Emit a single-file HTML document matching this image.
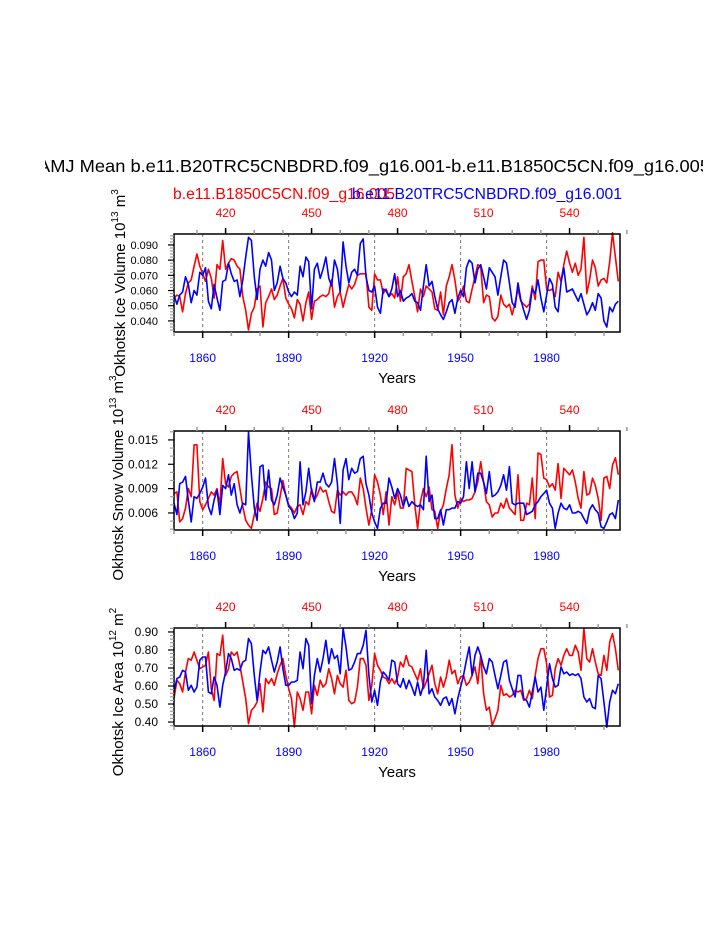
<!DOCTYPE html>
<html><head><meta charset="utf-8"><style>
body{margin:0;background:#fff}
svg{display:block;font-family:"Liberation Sans",sans-serif}
</style></head><body>
<svg id="chart" width="723" height="935" viewBox="0 0 723 935" xmlns="http://www.w3.org/2000/svg">
<rect width="723" height="935" fill="#fff"/>
<text x="38" y="172" font-size="17.5" textLength="672" lengthAdjust="spacingAndGlyphs">AMJ Mean b.e11.B20TRC5CNBDRD.f09_g16.001-b.e11.B1850C5CN.f09_g16.005</text>
<rect x="0" y="150" width="45" height="30" fill="#fff"/>
<rect x="703" y="150" width="20" height="30" fill="#fff"/>
<text x="173" y="199" font-size="15.5" fill="#f00" textLength="222" lengthAdjust="spacingAndGlyphs">b.e11.B1850C5CN.f09_g16.005</text>
<text x="352" y="199" font-size="15.5" fill="#00f" textLength="270" lengthAdjust="spacingAndGlyphs">b.e11.B20TRC5CNBDRD.f09_g16.001</text>
<g id="plots"></g>
</svg>
<script>
const years = [];
for (let y = 1850; y <= 2005; y++) years.push(y);
const bottomTicks = [1860, 1890, 1920, 1950, 1980];
const topTicks = [420, 450, 480, 510, 540];
const redOffset = 1448;

const iceVolRed = [0.055,0.057,0.056,0.046,0.058,0.065,0.067,0.076,0.084,0.076,0.071,0.066,0.074,0.068,0.055,0.077,0.074,0.093,0.074,0.078,0.081,0.080,0.076,0.074,0.056,0.047,0.034,0.045,0.049,0.061,0.063,0.036,0.052,0.056,0.061,0.054,0.057,0.063,0.068,0.055,0.051,0.048,0.042,0.054,0.051,0.040,0.052,0.059,0.041,0.053,0.054,0.056,0.057,0.056,0.058,0.067,0.049,0.056,0.059,0.049,0.057,0.064,0.061,0.064,0.070,0.071,0.071,0.071,0.049,0.047,0.071,0.067,0.067,0.058,0.061,0.056,0.058,0.055,0.069,
0.053,0.069,0.071,0.077,0.066,0.056,0.046,0.061,0.056,0.063,0.061,0.059,0.048,0.047,0.059,0.044,0.063,0.069,0.077,0.067,0.053,0.056,0.063,0.053,0.052,0.061,0.069,0.077,0.076,0.052,0.057,0.056,0.042,0.040,0.043,0.057,0.051,0.049,0.051,0.044,0.052,0.061,0.053,0.051,0.049,0.051,0.063,0.054,0.079,0.080,0.080,0.061,0.060,0.061,0.056,0.072,0.066,0.077,0.086,0.078,0.072,0.078,0.070,0.074,0.095,0.058,0.067,0.080,0.075,0.063,0.067,0.068,0.065,0.079,0.098,0.082,0.066];
const iceVolBlue = [0.057,0.051,0.057,0.059,0.069,0.064,0.052,0.060,0.057,0.072,0.070,0.075,0.053,0.048,0.064,0.055,0.047,0.066,0.067,0.078,0.071,0.066,0.067,0.056,0.067,0.082,0.095,0.093,0.069,0.054,0.074,0.080,0.076,0.085,0.080,0.060,0.065,0.076,0.068,0.065,0.059,0.056,0.059,0.057,0.076,0.069,0.082,0.079,0.048,0.074,0.078,0.068,0.074,0.082,0.068,0.063,0.080,0.074,0.059,0.092,0.076,0.065,0.072,0.074,0.070,0.091,0.094,0.069,0.060,0.059,0.063,0.049,0.045,0.061,0.060,0.056,0.061,0.071,0.056,
0.060,0.053,0.055,0.056,0.058,0.053,0.052,0.047,0.063,0.077,0.063,0.066,0.056,0.048,0.044,0.041,0.046,0.052,0.054,0.045,0.055,0.060,0.056,0.075,0.080,0.078,0.065,0.074,0.077,0.069,0.061,0.075,0.072,0.069,0.057,0.069,0.080,0.078,0.065,0.052,0.049,0.065,0.054,0.047,0.041,0.047,0.061,0.058,0.067,0.055,0.046,0.057,0.068,0.064,0.049,0.046,0.065,0.075,0.059,0.060,0.061,0.057,0.053,0.058,0.051,0.044,0.047,0.052,0.047,0.058,0.055,0.040,0.036,0.049,0.046,0.051,0.053];
const snowVolRed = [0.0084,0.0086,0.0049,0.0053,0.0066,0.0090,0.0080,0.0144,0.0144,0.0074,0.0064,0.0070,0.0078,0.0086,0.0082,0.0090,0.0070,0.0127,0.0096,0.0092,0.0105,0.0109,0.0111,0.0090,0.0068,0.0051,0.0045,0.0041,0.0058,0.0072,0.0062,0.0078,0.0098,0.0092,0.0090,0.0058,0.0060,0.0080,0.0100,0.0082,0.0070,0.0066,0.0060,0.0068,0.0070,0.0058,0.0074,0.0070,0.0090,0.0076,0.0082,0.0092,0.0086,0.0088,0.0074,0.0062,0.0060,0.0088,0.0082,0.0086,0.0082,0.0086,0.0086,0.0080,0.0070,0.0103,0.0090,0.0066,0.0045,0.0064,0.0107,0.0098,0.0082,0.0058,0.0086,0.0045,0.0080,0.0070,0.0086,0.0066,0.0066,0.0115,0.0113,0.0111,0.0070,0.0041,0.0074,0.0090,0.0080,0.0092,0.0064,0.0062,0.0041,0.0062,0.0070,0.0090,0.0107,0.0144,0.0082,0.0066,0.0078,0.0074,0.0076,0.0076,0.0078,0.0086,0.0098,0.0123,0.0098,0.0074,0.0070,0.0055,0.0060,0.0060,0.0072,0.0066,0.0078,0.0066,0.0062,0.0058,0.0107,0.0051,0.0051,0.0072,0.0070,0.0103,0.0053,0.0134,0.0132,0.0103,0.0101,0.0092,0.0096,0.0088,0.0121,0.0078,0.0115,0.0111,0.0107,0.0113,0.0098,0.0078,0.0066,0.0111,0.0082,0.0084,0.0103,0.0094,0.0078,0.0051,0.0103,0.0105,0.0090,0.0119,0.0128,0.0107];
const snowVolBlue = [0.0072,0.0058,0.0096,0.0098,0.0105,0.0076,0.0049,0.0080,0.0078,0.0084,0.0092,0.0103,0.0068,0.0058,0.0076,0.0088,0.0058,0.0094,0.0090,0.0107,0.0082,0.0096,0.0070,0.0060,0.0072,0.0070,0.0160,0.0107,0.0066,0.0051,0.0117,0.0119,0.0076,0.0113,0.0076,0.0070,0.0082,0.0103,0.0092,0.0082,0.0068,0.0064,0.0053,0.0060,0.0123,0.0070,0.0086,0.0115,0.0086,0.0074,0.0098,0.0098,0.0109,0.0096,0.0092,0.0098,0.0127,0.0096,0.0047,0.0113,0.0127,0.0101,0.0115,0.0109,0.0111,0.0127,0.0130,0.0096,0.0082,0.0060,0.0049,0.0041,0.0066,0.0072,0.0072,0.0103,0.0092,0.0078,0.0090,0.0082,0.0068,0.0080,0.0068,0.0074,0.0070,0.0068,0.0070,0.0064,0.0130,0.0074,0.0082,0.0053,0.0053,0.0064,0.0045,0.0064,0.0064,0.0066,0.0066,0.0074,0.0072,0.0080,0.0123,0.0090,0.0123,0.0086,0.0109,0.0109,0.0098,0.0084,0.0111,0.0080,0.0082,0.0086,0.0094,0.0107,0.0088,0.0117,0.0072,0.0070,0.0072,0.0072,0.0072,0.0058,0.0060,0.0062,0.0070,0.0074,0.0080,0.0084,0.0088,0.0072,0.0066,0.0041,0.0060,0.0072,0.0066,0.0064,0.0070,0.0060,0.0060,0.0062,0.0060,0.0053,0.0047,0.0064,0.0070,0.0064,0.0060,0.0043,0.0041,0.0049,0.0058,0.0060,0.0053,0.0076];
const areaRed = [0.530,0.632,0.613,0.567,0.678,0.752,0.743,0.789,0.743,0.696,0.706,0.715,0.789,0.585,0.520,0.780,0.770,0.882,0.659,0.696,0.789,0.770,0.789,0.715,0.622,0.530,0.391,0.465,0.483,0.511,0.613,0.456,0.641,0.613,0.641,0.604,0.668,0.715,0.752,0.659,0.585,0.530,0.372,0.567,0.530,0.465,0.567,0.567,0.446,0.604,0.548,0.632,0.594,0.613,0.696,0.641,0.557,0.659,0.613,0.594,0.687,0.520,0.502,0.511,0.594,0.752,0.752,0.715,0.520,0.604,0.780,0.715,0.687,0.650,0.641,0.613,0.641,0.613,0.650,0.733,0.706,0.770,0.715,0.706,0.668,0.632,0.696,0.585,0.622,0.668,0.715,0.613,0.557,0.650,0.594,0.650,0.743,0.668,0.687,0.613,0.650,0.659,0.604,0.622,0.659,0.706,0.613,0.770,0.557,0.465,0.483,0.382,0.419,0.465,0.604,0.548,0.557,0.539,0.548,0.576,0.567,0.576,0.520,0.530,0.576,0.530,0.659,0.752,0.807,0.807,0.724,0.539,0.548,0.696,0.752,0.715,0.770,0.807,0.770,0.770,0.826,0.789,0.687,0.919,0.752,0.733,0.807,0.733,0.668,0.659,0.770,0.687,0.844,0.891,0.807,0.687];
const areaBlue = [0.567,0.641,0.650,0.687,0.678,0.576,0.604,0.567,0.594,0.743,0.761,0.761,0.567,0.557,0.650,0.604,0.483,0.604,0.678,0.780,0.752,0.687,0.696,0.687,0.733,0.743,0.863,0.835,0.659,0.520,0.678,0.798,0.780,0.817,0.743,0.678,0.733,0.817,0.696,0.604,0.604,0.622,0.622,0.632,0.789,0.696,0.863,0.826,0.502,0.659,0.752,0.678,0.752,0.854,0.724,0.807,0.752,0.770,0.668,0.919,0.817,0.687,0.696,0.733,0.780,0.780,0.826,0.909,0.659,0.511,0.576,0.493,0.622,0.678,0.659,0.632,0.743,0.733,0.613,0.594,0.641,0.585,0.632,0.594,0.548,0.622,0.548,0.604,0.798,0.557,0.585,0.539,0.520,0.493,0.530,0.539,0.493,0.530,0.446,0.530,0.594,0.659,0.743,0.817,0.659,0.770,0.817,0.770,0.706,0.668,0.752,0.733,0.659,0.585,0.659,0.733,0.743,0.632,0.585,0.539,0.659,0.659,0.530,0.520,0.483,0.567,0.650,0.567,0.594,0.465,0.594,0.724,0.641,0.594,0.604,0.706,0.668,0.678,0.659,0.668,0.659,0.668,0.641,0.539,0.511,0.530,0.483,0.474,0.659,0.641,0.511,0.372,0.511,0.576,0.557,0.613];

const panel1Ticks = [0.040,0.050,0.060,0.070,0.080,0.090];
const panel2Ticks = [0.006,0.009,0.012,0.015];
const panel3Ticks = [0.40,0.50,0.60,0.70,0.80,0.90];

const NS = "http://www.w3.org/2000/svg";
const root = document.getElementById('plots');
function mk(tag, attrs, parent) {
  const e = document.createElementNS(NS, tag);
  for (const k in attrs) e.setAttribute(k, attrs[k]);
  (parent || root).appendChild(e);
  return e;
}
const X0 = 174, X1 = 620, YEAR0 = 1850, YEAR1 = 2005.6;
function xScale(yr) { return X0 + (yr - YEAR0) / (YEAR1 - YEAR0) * (X1 - X0); }

const panels = [
  {name:'ice-volume', top:234, bot:332, ymin:0.0327, ymax:0.0972, ticks:panel1Ticks, minor:0.002, dec:3, fs:11, red:iceVolRed, blue:iceVolBlue,
   title:['Okhotsk Ice Volume 10','13',' m','3'], tx:125, tcy:283},
  {name:'snow-volume', top:431, bot:530, ymin:0.0039, ymax:0.0161, ticks:panel2Ticks, minor:0.001, dec:3, fs:12, red:snowVolRed, blue:snowVolBlue,
   title:['Okhotsk Snow Volume 10','13',' m','3'], tx:123, tcy:478},
  {name:'ice-area', top:628, bot:726, ymin:0.378, ymax:0.922, ticks:panel3Ticks, minor:0.02, dec:2, fs:12, red:areaRed, blue:areaBlue,
   title:['Okhotsk Ice Area 10','12',' m','2'], tx:123, tcy:692}
];

panels.forEach(p => {
  const g = mk('g', {});
  
  
  const yS = v => p.bot - (v - p.ymin) / (p.ymax - p.ymin) * (p.bot - p.top);
  bottomTicks.forEach(t => {
    const l = mk('line', {x1:xScale(t), x2:xScale(t), y1:p.top, y2:p.bot, stroke:'#777', 'stroke-width':1, 'stroke-dasharray':'3,3'}, g);
    
    
  });
  [['red', p.red, '#f00'], ['blue', p.blue, '#00f']].forEach(([nm, arr, col]) => {
    const pts = arr.map((v, i) => xScale(years[i]).toFixed(1) + ',' + yS(v).toFixed(1)).join(' ');
    const pl = mk('polyline', {points:pts, fill:'none', stroke:col, 'stroke-width':1.6, 'stroke-linejoin':'round'}, g);
    
    
  });
  const fr = mk('rect', {x:X0, y:p.top, width:X1-X0, height:p.bot-p.top, fill:'none', stroke:'#000', 'stroke-width':1.5}, g);
  
  
  for (let yr = 1850; yr <= 2005; yr += 10) {
    const major = bottomTicks.includes(yr);
    mk('line', {x1:xScale(yr), x2:xScale(yr), y1:p.bot, y2:p.bot + (major?6:4), stroke: major?'#000':'#999', 'stroke-width':1.5}, g);
  }
  for (let ry = 410; ry <= 560; ry += 10) {
    const major = topTicks.includes(ry);
    mk('line', {x1:xScale(ry+redOffset), x2:xScale(ry+redOffset), y1:p.top, y2:p.top - (major?6:4), stroke: major?'#000':'#999', 'stroke-width':1.5}, g);
  }
  bottomTicks.forEach(t => {
    const tx = mk('text', {x:xScale(t), y:p.bot + 30, 'font-size':12, fill:'#00f', 'text-anchor':'middle'}, g);
    tx.textContent = t;
    
    
  });
  topTicks.forEach(t => {
    const tx = mk('text', {x:xScale(t+redOffset), y:p.top - 17, 'font-size':12, fill:'#f00', 'text-anchor':'middle'}, g);
    tx.textContent = t;
    
    
  });
  const nMin = Math.ceil(p.ymin / p.minor - 1e-6), nMax = Math.floor(p.ymax / p.minor + 1e-6);
  for (let k = nMin; k <= nMax; k++) {
    const v = k * p.minor;
    const major = p.ticks.some(t => Math.abs(t - v) < p.minor/10);
    mk('line', {x1:X0, x2:X0 - (major?6:4), y1:yS(v), y2:yS(v), stroke: major?'#000':'#999', 'stroke-width':1.2}, g);
  }
  p.ticks.forEach(t => {
    const tx = mk('text', {x:X0 - 16, y:yS(t) + 4, 'font-size':p.fs, 'text-anchor':'end'}, g);
    tx.textContent = t.toFixed(p.dec);
    
    
  });
  const xt = mk('text', {x:(X0+X1)/2, y:p.bot + 51, 'font-size':15, 'text-anchor':'middle'}, g);
  xt.textContent = 'Years';
  
  
  const yt = mk('text', {x:0, y:0, 'font-size':15, 'text-anchor':'middle', transform:'translate(' + p.tx + ',' + p.tcy + ') rotate(-90)'}, g);
  
  
  const s1 = mk('tspan', {}, yt); s1.textContent = p.title[0];
  const s2 = mk('tspan', {dy:-7, 'font-size':10}, yt); s2.textContent = p.title[1];
  const s3 = mk('tspan', {dy:7}, yt); s3.textContent = p.title[2];
  const s4 = mk('tspan', {dy:-7, 'font-size':10}, yt); s4.textContent = p.title[3];
});
</script>
</body></html>
